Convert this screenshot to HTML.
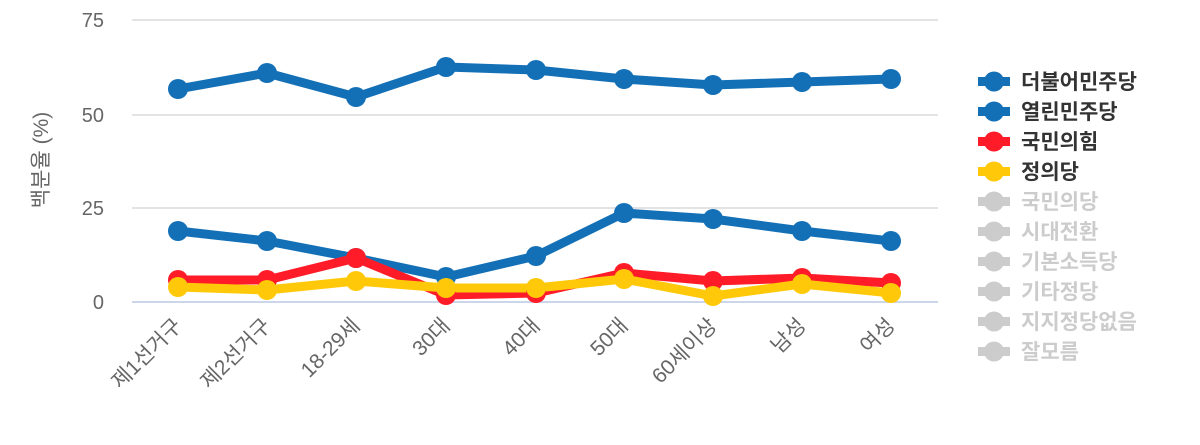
<!DOCTYPE html>
<html><head><meta charset="utf-8"><style>
body{margin:0;background:#fff;}
text{font-family:"Liberation Sans","Noto Sans CJK KR",sans-serif;}
</style></head><body>
<svg width="1200" height="440" xmlns="http://www.w3.org/2000/svg">
<g stroke="#e3e3e3" stroke-width="2">
<line x1="132" y1="20" x2="938" y2="20"/><line x1="132" y1="115" x2="938" y2="115"/><line x1="132" y1="208" x2="938" y2="208"/>
</g>
<line x1="132" y1="302" x2="938" y2="302" stroke="#ccd6eb" stroke-width="2"/>
<g font-size="20" fill="#666" text-anchor="end">
<text x="104" y="27">75</text><text x="104" y="122">50</text><text x="104" y="215">25</text><text x="104" y="309">0</text>
</g>
<text transform="translate(48,160) rotate(-90)" font-size="21" fill="#666" text-anchor="middle">백분율 (%)</text>
<g font-size="21" fill="#666" text-anchor="end">
<text transform="translate(183,327) rotate(-45)">제1선거구</text>
<text transform="translate(272,327) rotate(-45)">제2선거구</text>
<text transform="translate(361,327) rotate(-45)">18-29세</text>
<text transform="translate(451,327) rotate(-45)">30대</text>
<text transform="translate(541,327) rotate(-45)">40대</text>
<text transform="translate(629,327) rotate(-45)">50대</text>
<text transform="translate(718,327) rotate(-45)">60세이상</text>
<text transform="translate(807,327) rotate(-45)">남성</text>
<text transform="translate(896,327) rotate(-45)">여성</text>
</g>
<g fill="none" stroke-width="9" stroke-linejoin="round">
<polyline stroke="#1470b6" points="178,89 267,73 356,97 446,67 536,70 624,79 713,85 802,82 891,79"/>
<polyline stroke="#1470b6" points="178,231 267,241 356,258 446,277 536,256 624,213 713,219 802,231 891,241"/>
<polyline stroke="#ff1c28" points="178,280 267,280 356,258 446,295 536,293 624,273 713,281 802,278 891,283"/>
<polyline stroke="#ffc90a" points="178,287 267,290 356,281 446,288 536,288 624,279 713,296 802,284 891,293"/>
</g>
<g fill="#1470b6">
<circle cx="178" cy="89" r="10"/><circle cx="267" cy="73" r="10"/><circle cx="356" cy="97" r="10"/><circle cx="446" cy="67" r="10"/><circle cx="536" cy="70" r="10"/><circle cx="624" cy="79" r="10"/><circle cx="713" cy="85" r="10"/><circle cx="802" cy="82" r="10"/><circle cx="891" cy="79" r="10"/>
<circle cx="178" cy="231" r="10"/><circle cx="267" cy="241" r="10"/><circle cx="356" cy="258" r="10"/><circle cx="446" cy="277" r="10"/><circle cx="536" cy="256" r="10"/><circle cx="624" cy="213" r="10"/><circle cx="713" cy="219" r="10"/><circle cx="802" cy="231" r="10"/><circle cx="891" cy="241" r="10"/>
</g>
<g fill="#ff1c28">
<circle cx="178" cy="280" r="10"/><circle cx="267" cy="280" r="10"/><circle cx="356" cy="258" r="10"/><circle cx="446" cy="295" r="10"/><circle cx="536" cy="293" r="10"/><circle cx="624" cy="273" r="10"/><circle cx="713" cy="281" r="10"/><circle cx="802" cy="278" r="10"/><circle cx="891" cy="283" r="10"/>
</g>
<g fill="#ffc90a">
<circle cx="178" cy="287" r="10"/><circle cx="267" cy="290" r="10"/><circle cx="356" cy="281" r="10"/><circle cx="446" cy="288" r="10"/><circle cx="536" cy="288" r="10"/><circle cx="624" cy="279" r="10"/><circle cx="713" cy="296" r="10"/><circle cx="802" cy="284" r="10"/><circle cx="891" cy="293" r="10"/>
</g>
<g font-size="21" font-weight="bold">
<g fill="#1470b6"><rect x="978" y="77" width="32" height="9"/><circle cx="994" cy="81.5" r="10"/></g><text x="1021" y="89" fill="#333">더불어민주당</text>
<g fill="#1470b6"><rect x="978" y="107" width="32" height="9"/><circle cx="994" cy="111.5" r="10"/></g><text x="1021" y="119" fill="#333">열린민주당</text>
<g fill="#ff1c28"><rect x="978" y="137" width="32" height="9"/><circle cx="994" cy="141.5" r="10"/></g><text x="1021" y="149" fill="#333">국민의힘</text>
<g fill="#ffc90a"><rect x="978" y="167" width="32" height="9"/><circle cx="994" cy="171.5" r="10"/></g><text x="1021" y="179" fill="#333">정의당</text>
<g fill="#ccc">
<rect x="978" y="197" width="32" height="9"/><circle cx="994" cy="201.5" r="10"/><text x="1021" y="209">국민의당</text>
<rect x="978" y="227" width="32" height="9"/><circle cx="994" cy="231.5" r="10"/><text x="1021" y="239">시대전환</text>
<rect x="978" y="257" width="32" height="9"/><circle cx="994" cy="261.5" r="10"/><text x="1021" y="269">기본소득당</text>
<rect x="978" y="287" width="32" height="9"/><circle cx="994" cy="291.5" r="10"/><text x="1021" y="299">기타정당</text>
<rect x="978" y="317" width="32" height="9"/><circle cx="994" cy="321.5" r="10"/><text x="1021" y="329">지지정당없음</text>
<rect x="978" y="347" width="32" height="9"/><circle cx="994" cy="351.5" r="10"/><text x="1021" y="359">잘모름</text>
</g>
</g>
</svg>
</body></html>
